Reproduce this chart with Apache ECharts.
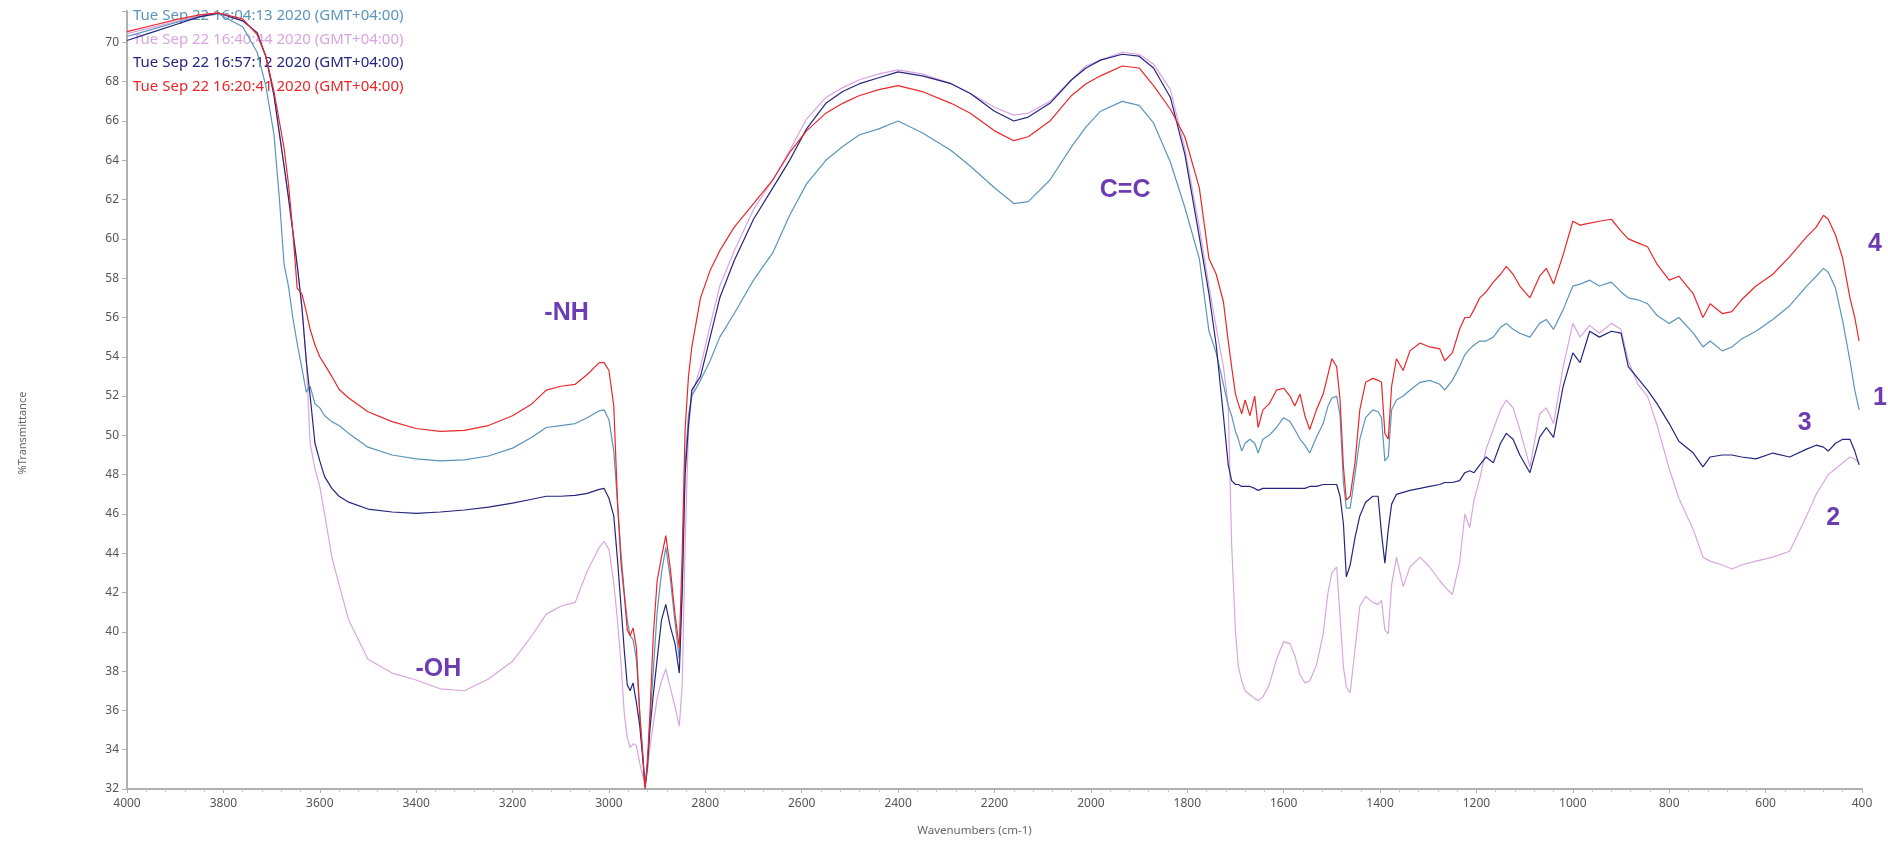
<!DOCTYPE html>
<html>
<head>
<meta charset="utf-8">
<script src="https://cdn.jsdelivr.net/npm/echarts@6/dist/echarts.min.js"></script>
<style>html,body{margin:0;padding:0;background:#fff}#chart{width:1888px;height:844px}</style>
</head>
<body>
<div id="chart"></div>
<script>
// Wavenumbers (cm-1), shared sampling grid for all four spectra
const wavenumbers = [
 4000,3950,3900,3850,3810,3760,3730,3712,3695,3684,
 3674,3665,3656,3647,3637,3628,3620,3610,3600,3590,
 3575,3560,3540,3500,3450,3400,3350,3300,3250,3200,
 3160,3130,3100,3070,3045,3020,3010,3000,2990,2982,
 2975,2968,2962,2956,2950,2943,2936,2930,2925,2920,
 2915,2908,2900,2891,2882,2873,2863,2854,2848,2842,
 2835,2828,2810,2790,2770,2740,2700,2660,2625,2590,
 2550,2515,2480,2440,2400,2350,2290,2250,2200,2160,
 2130,2085,2040,2010,1980,1935,1900,1870,1835,1805,
 1775,1755,1740,1725,1715,1708,1700,1694,1687,1680,
 1670,1660,1653,1643,1630,1615,1600,1587,1577,1566,
 1556,1546,1532,1518,1508,1500,1490,1483,1476,1470,
 1462,1452,1442,1430,1415,1404,1397,1390,1383,1376,
 1366,1352,1338,1317,1297,1276,1266,1250,1235,1224,
 1214,1205,1193,1180,1165,1150,1138,1124,1110,1089,
 1069,1055,1040,1020,1000,985,965,945,920,900,
 885,865,845,825,800,780,750,730,715,690,
 670,650,620,585,550,515,495,480,470,455,
 440,425,415,406
];

// %Transmittance, spectrum 1 (steel blue)
const spectrum1 = [
 70.3,70.65,71.0,71.3,71.45,70.8,69.5,67.8,65.3,62.1,
 58.7,57.6,56.0,54.7,53.4,52.2,52.5,51.6,51.4,51.0,
 50.7,50.5,50.1,49.4,49.0,48.8,48.7,48.75,48.95,49.35,
 49.9,50.4,50.5,50.6,50.9,51.25,51.3,50.8,49.2,46.5,
 44.0,42.0,40.6,39.8,39.6,38.6,35.8,33.8,32.1,33.0,
 35.5,38.0,41.0,43.0,44.3,42.8,40.5,38.6,42.5,48.5,
 51.0,52.0,52.8,53.8,55.0,56.2,57.9,59.3,61.2,62.8,
 64.0,64.7,65.3,65.6,66.0,65.4,64.5,63.7,62.6,61.8,
 61.9,63.0,64.7,65.7,66.5,67.0,66.8,65.9,63.9,61.6,
 59.0,55.3,54.2,52.6,51.5,51.0,50.2,49.8,49.2,49.6,
 49.8,49.6,49.1,49.8,50.0,50.4,50.9,50.7,50.3,49.8,
 49.5,49.1,49.9,50.6,51.5,51.9,52.0,51.0,47.6,46.3,
 46.3,48.0,49.8,50.9,51.3,51.2,50.9,48.7,48.9,51.3,
 51.8,52.0,52.3,52.7,52.8,52.6,52.3,52.8,53.5,54.1,
 54.4,54.6,54.8,54.8,55.0,55.5,55.7,55.4,55.2,55.0,
 55.7,55.9,55.4,56.4,57.6,57.7,57.9,57.6,57.8,57.3,
 57.0,56.9,56.7,56.1,55.7,56.0,55.2,54.5,54.8,54.3,
 54.5,54.9,55.3,55.9,56.6,57.6,58.1,58.5,58.3,57.5,
 55.8,53.8,52.3,51.3
];

// %Transmittance, spectrum 2 (lilac)
const spectrum2 = [
 70.45,70.75,71.05,71.35,71.5,71.1,70.5,69.3,67.3,65.4,
 63.7,62.1,60.4,58.7,56.5,53.8,49.6,48.3,47.4,46.0,
 43.8,42.4,40.6,38.6,37.9,37.55,37.1,37.0,37.6,38.5,
 39.8,40.9,41.3,41.5,43.1,44.3,44.6,44.2,42.5,40.5,
 38.4,35.8,34.6,34.1,34.3,34.2,33.3,32.7,32.1,33.0,
 34.1,35.3,36.6,37.5,38.1,37.2,36.2,35.2,37.3,44.3,
 50.3,52.0,53.5,55.6,57.6,59.4,61.5,63.0,64.5,66.1,
 67.2,67.7,68.1,68.4,68.6,68.4,67.9,67.4,66.7,66.3,
 66.4,67.0,68.1,68.8,69.1,69.5,69.4,68.9,67.6,64.6,
 60.6,57.6,55.5,53.5,51.5,44.5,40.0,38.2,37.5,37.0,
 36.8,36.6,36.5,36.7,37.3,38.6,39.5,39.4,38.8,37.8,
 37.4,37.5,38.3,39.9,42.0,43.0,43.3,40.8,38.2,37.2,
 36.9,39.1,41.3,41.8,41.5,41.4,41.6,40.1,39.9,42.4,
 43.8,42.3,43.3,43.8,43.3,42.6,42.3,41.9,43.5,46.0,
 45.3,46.7,47.8,49.3,50.3,51.3,51.8,51.4,50.3,48.4,
 51.1,51.4,50.6,53.5,55.7,55.0,55.6,55.2,55.7,55.4,
 53.8,52.6,52.0,50.5,48.3,46.8,45.2,43.8,43.6,43.4,
 43.2,43.4,43.6,43.8,44.1,45.9,47.0,47.6,48.0,48.3,
 48.6,48.9,48.8,48.6
];

// %Transmittance, spectrum 3 (navy)
const spectrum3 = [
 70.1,70.5,70.9,71.3,71.5,71.1,70.5,69.3,67.3,65.4,
 63.7,62.1,60.4,58.7,56.5,53.8,52.0,49.6,48.7,47.9,
 47.3,46.9,46.6,46.25,46.1,46.03,46.1,46.2,46.35,46.55,
 46.75,46.9,46.9,46.95,47.05,47.25,47.3,46.8,45.9,43.6,
 41.3,39.0,37.3,37.0,37.4,36.4,35.2,33.6,32.1,33.3,
 35.0,36.8,38.6,40.6,41.4,40.3,39.4,37.9,42.0,48.0,
 50.5,52.3,53.0,55.0,57.0,58.9,61.0,62.6,64.0,65.6,
 66.9,67.5,67.9,68.2,68.5,68.3,67.9,67.4,66.5,66.0,
 66.2,66.9,68.1,68.7,69.1,69.4,69.3,68.7,67.2,64.3,
 60.1,57.2,54.6,51.0,48.5,47.7,47.5,47.5,47.4,47.4,
 47.4,47.3,47.2,47.3,47.3,47.3,47.3,47.3,47.3,47.3,
 47.3,47.4,47.4,47.5,47.5,47.5,47.5,46.9,45.5,42.8,
 43.4,44.8,45.9,46.6,46.9,46.9,45.0,43.5,45.2,46.5,
 47.0,47.1,47.2,47.3,47.4,47.5,47.6,47.6,47.7,48.1,
 48.2,48.1,48.5,48.9,48.6,49.6,50.1,49.8,49.0,48.1,
 49.9,50.4,49.9,52.5,54.2,53.7,55.3,55.0,55.3,55.2,
 53.5,52.9,52.3,51.6,50.6,49.7,49.1,48.4,48.9,49.0,
 49.0,48.9,48.8,49.1,48.9,49.3,49.5,49.4,49.2,49.6,
 49.8,49.8,49.2,48.5
];

// %Transmittance, spectrum 4 (red)
const spectrum4 = [
 70.55,70.85,71.15,71.4,71.5,71.2,70.4,69.3,67.5,66.0,
 64.6,62.8,60.4,57.5,57.2,56.3,55.4,54.6,54.0,53.6,
 53.0,52.35,51.9,51.2,50.7,50.35,50.2,50.25,50.5,51.0,
 51.6,52.3,52.5,52.6,53.1,53.7,53.7,53.3,51.5,46.5,
 43.5,41.8,40.1,39.8,40.2,39.2,35.8,33.8,32.0,33.5,
 35.8,39.8,42.6,43.8,44.9,43.3,40.9,39.2,44.0,50.3,
 53.0,54.5,57.0,58.4,59.4,60.6,61.8,63.0,64.4,65.5,
 66.4,66.9,67.3,67.6,67.8,67.5,66.9,66.4,65.5,65.0,
 65.2,66.0,67.3,67.9,68.3,68.8,68.7,67.8,66.6,65.2,
 62.6,59.0,58.2,56.8,54.8,53.5,52.1,51.6,51.1,51.8,
 51.0,52.0,50.4,51.3,51.6,52.3,52.4,52.0,51.5,52.1,
 51.0,50.3,51.3,52.1,53.1,53.9,53.5,51.8,48.4,46.7,
 46.9,48.6,51.3,52.7,52.9,52.8,52.7,50.1,49.8,52.5,
 53.9,53.3,54.3,54.7,54.5,54.4,53.8,54.2,55.4,56.0,
 56.0,56.4,57.0,57.3,57.8,58.2,58.6,58.2,57.6,57.0,
 58.1,58.5,57.7,59.2,60.9,60.7,60.8,60.9,61.0,60.4,
 60.0,59.8,59.6,58.7,57.9,58.1,57.2,56.0,56.7,56.2,
 56.3,56.9,57.6,58.2,59.1,60.1,60.6,61.2,61.0,60.2,
 59.0,57.0,56.0,54.8
];

// Legend names (reference order)
const legendNames = [
 'Tue Sep 22 16:04:13 2020 (GMT+04:00)',
 'Tue Sep 22 16:40:44 2020 (GMT+04:00)',
 'Tue Sep 22 16:57:12 2020 (GMT+04:00)',
 'Tue Sep 22 16:20:41 2020 (GMT+04:00)'
];
const seriesColors = ['#5b95bb', '#d9a5e0', '#25257f', '#e8282b'];

// Annotation texts and their anchor points in data space [wavenumber, %T]
const annotationTexts = ['-NH', '-OH', 'C=C', '4', '1', '3', '2'];
const annotationWn    = [3088, 3354, 1929, 373, 363, 519, 460];
const annotationT     = [56.2, 38.1, 62.5, 59.76, 51.9, 50.6, 45.8];

const spectra = [spectrum1, spectrum2, spectrum3, spectrum4];
const drawOrder = [1, 0, 2, 3];

const chart = echarts.init(document.getElementById('chart'));

const option = {
  animation: false,
  backgroundColor: '#ffffff',
  grid: { left: 127, right: 26, top: 11, bottom: 55 },
  legend: {
    orient: 'vertical',
    left: 121,
    top: 2,
    z: 1,
    icon: 'none',
    itemWidth: 2,
    itemHeight: 14,
    itemGap: 5.5,
    selectedMode: false,
    textStyle: { fontFamily: 'Noto Sans', fontSize: 15, lineHeight: 18 },
    data: legendNames.map((n, i) => ({ name: n, textStyle: { color: seriesColors[i] } }))
  },
  xAxis: {
    type: 'value',
    inverse: true,
    min: 400,
    max: 4000,
    interval: 200,
    name: 'Wavenumbers (cm-1)',
    nameLocation: 'middle',
    nameGap: 36,
    nameTextStyle: { color: '#666', fontSize: 11.5, fontFamily: 'Noto Sans', padding: [0, 40, 0, 0] },
    axisLine: { show: true, lineStyle: { color: '#b0b0b0', width: 2 } },
    axisTick: { show: true, length: 4, lineStyle: { color: '#b0b0b0' } },
    minorTick: { show: true, splitNumber: 5, length: 3, lineStyle: { color: '#c4c4c4' } },
    splitLine: { show: false },
    axisLabel: { color: '#555', fontSize: 12, fontFamily: 'Noto Sans', margin: 9, formatter: v => String(v) }
  },
  yAxis: {
    type: 'value',
    min: 32,
    max: 71.6,
    interval: 2,
    name: '%Transmittance',
    nameLocation: 'middle',
    nameGap: 99,
    nameRotate: 90,
    nameTextStyle: { color: '#666', fontSize: 11, fontFamily: 'Noto Sans', padding: [0, 66, 0, 0] },
    axisLine: { show: true, lineStyle: { color: '#b0b0b0', width: 2 } },
    axisTick: { show: true, length: 5, lineStyle: { color: '#b0b0b0' } },
    splitLine: { show: false },
    axisLabel: {
      color: '#555', fontSize: 12, fontFamily: 'Noto Sans', margin: 8,
      formatter: v => (Math.abs(v - Math.round(v)) < 1e-6 && Math.round(v) % 2 === 0 ? String(Math.round(v)) : '')
    }
  },
  series: drawOrder.map(i => ({
    name: legendNames[i],
    type: 'line',
    z: 3,
    showSymbol: false,
    symbol: 'none',
    color: seriesColors[i],
    lineStyle: { width: 1.2, color: seriesColors[i] },
    data: wavenumbers.map((w, k) => [w, spectra[i][k]])
  }))
};
chart.setOption(option);

chart.setOption({
  graphic: annotationTexts.map((t, i) => {
    const p = chart.convertToPixel({ xAxisIndex: 0, yAxisIndex: 0 }, [annotationWn[i], annotationT[i]]);
    return {
      type: 'text',
      x: p[0],
      y: p[1],
      z: 100,
      style: {
        text: t,
        fill: '#6e3cb2',
        font: 'bold 25px "Liberation Sans", Arial, sans-serif',
        align: 'center',
        verticalAlign: 'middle'
      }
    };
  })
});
</script>
</body>
</html>
